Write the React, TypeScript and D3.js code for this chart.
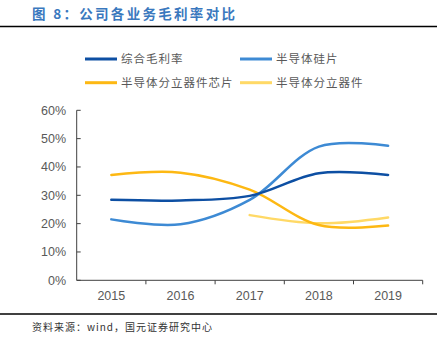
import React from "react";
import * as d3 from "d3";

const years = ["2015", "2016", "2017", "2018", "2019"];
const overall = [28.4, 28.2, 29.8, 37.8, 37.2];
const wafer = [21.5, 19.8, 28.4, 47.2, 47.5];
const chip = [37.2, 38.0, 32.0, 19.5, 19.3];
const discrete: (number | null)[] = [null, null, 23.0, 20.1, 22.2];
const yTicks = [0, 10, 20, 30, 40, 50, 60];

const seriesNames = ["综合毛利率", "半导体硅片", "半导体分立器件芯片", "半导体分立器件"];
const seriesColors = ["#0D4FA3", "#3D8AD4", "#FDB813", "#FFD966"];

export default function App() {
  const W = 437, H = 338;
  const left = 76.7, right = 422.7, top = 110.3, bottom = 280.3;
  const x = d3.scaleBand<string>().domain(years).range([left, right]);
  const y = d3.scaleLinear().domain([0, 60]).range([bottom, top]);
  const cx = (i: number) => (x(years[i]) as number) + x.bandwidth() / 2;
  const line = d3
    .line<number | null>()
    .defined((d) => d !== null)
    .x((_, i) => cx(i))
    .y((d) => y(d as number))
    .curve(d3.curveCatmullRom.alpha(0.5));
  const data = [overall, wafer, chip, discrete];
  const font = "'Liberation Sans', Arial, sans-serif";
  const cjk = "'Noto Sans CJK SC', sans-serif";
  const legendPos = [
    [85, 59],
    [240, 59],
    [85, 82.7],
    [240, 82.7],
  ];
  return (
    <svg width={W} height={H} style={{ position: "absolute", left: 0, top: 0 }}>
      <rect width={W} height={H} fill="#fff" />
      <text x={32} y={19} fontFamily={cjk} fontWeight="bold" fontSize={13.5} letterSpacing={2.3} fill="#3A78BE">
        图 8：公司各业务毛利率对比
      </text>
      <line x1={0} x2={W} y1={26.5} y2={26.5} stroke="#000" strokeWidth={1.5} />
      {legendPos.map((p, i) => (
        <g key={i}>
          <line x1={p[0]} x2={p[0] + 32} y1={p[1]} y2={p[1]} stroke={seriesColors[i]} strokeWidth={3} />
          <text x={p[0] + 36} y={p[1] + 4} fontFamily={cjk} fontSize={11.5} letterSpacing={1} fill="#595959">
            {seriesNames[i]}
          </text>
        </g>
      ))}
      {yTicks.map((t) => (
        <text key={t} x={66} y={y(t) + 4.5} textAnchor="end" fontFamily={font} fontSize={12.5} fill="#595959">
          {t}%
        </text>
      ))}
      <line x1={left} x2={left} y1={top} y2={bottom} stroke="#404040" strokeWidth={1} />
      {yTicks.map((t) => (
        <line key={"yt" + t} x1={left} x2={left + 4} y1={y(t)} y2={y(t)} stroke="#404040" strokeWidth={1} />
      ))}
      <line x1={left} x2={right} y1={bottom} y2={bottom} stroke="#404040" strokeWidth={1} />
      {years.map((yr) => (
        <line key={"xt" + yr} x1={(x(yr) as number) + x.bandwidth()} x2={(x(yr) as number) + x.bandwidth()} y1={bottom} y2={bottom + 4} stroke="#404040" strokeWidth={1} />
      ))}
      {years.map((yr, i) => (
        <text key={yr} x={cx(i)} y={bottom + 20} textAnchor="middle" fontFamily={font} fontSize={12.5} fill="#595959">
          {yr}
        </text>
      ))}
      {[3, 2, 1, 0].map((i) => (
        <path key={i} d={line(data[i]) || ""} fill="none" stroke={seriesColors[i]} strokeWidth={2.5} strokeLinecap="round" />
      ))}
      <line x1={0} x2={W} y1={314} y2={314} stroke="#000" strokeWidth={1.5} />
      <text x={32} y={331} fontFamily={cjk} fontSize={10} letterSpacing={1} fill="#333">
        资料来源：wind，国元证券研究中心
      </text>
    </svg>
  );
}
